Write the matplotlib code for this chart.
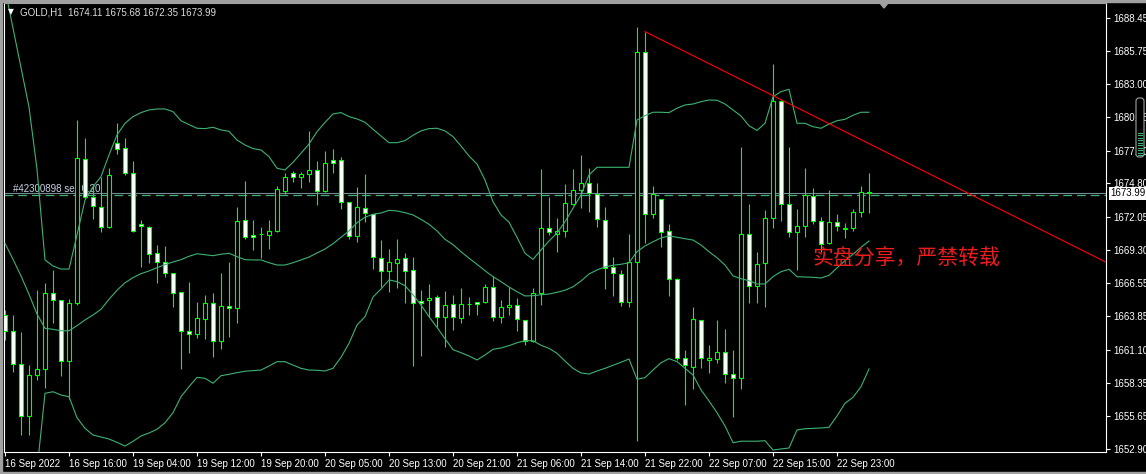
import numpy as np
import matplotlib
matplotlib.use('Agg')
import matplotlib.pyplot as plt
from matplotlib.patches import Rectangle, Polygon, FancyBboxPatch
from matplotlib.transforms import IdentityTransform

plt.rcParams['font.family'] = ['Liberation Sans', 'DejaVu Sans']

# ---------------- data (GOLD, H1) ----------------
symbol_info = 'GOLD,H1  1674.11 1675.68 1672.35 1673.99'

opens = [
    1663.95, 1662.65, 1659.88, 1655.62, 1658.98, 1659.47, 1665.74, 1665.16, 1660.13, 1664.94,
    1676.79, 1673.66, 1672.88, 1671.23, 1678.11, 1677.70, 1675.64, 1671.48, 1671.23, 1669.04,
    1668.30, 1667.39, 1665.82, 1662.60, 1662.36, 1663.59, 1664.91, 1661.78, 1664.72, 1664.50,
    1671.76, 1670.52, 1670.60, 1670.57, 1670.85, 1674.20, 1675.64, 1675.31, 1675.55, 1675.91,
    1674.15, 1676.71, 1676.71, 1673.24, 1670.49, 1672.75, 1672.26, 1668.63, 1667.60, 1668.26,
    1668.63, 1667.64, 1665.10, 1665.16, 1665.41, 1663.81, 1664.83, 1663.73, 1664.83, 1664.99,
    1665.05, 1666.23, 1663.81, 1664.58, 1664.75, 1663.51, 1661.83, 1665.74, 1671.10, 1670.65,
    1670.85, 1673.08, 1674.26, 1674.86, 1673.90, 1671.76, 1667.88, 1667.31, 1665.05, 1668.30,
    1685.62, 1672.25, 1673.49, 1670.85, 1666.89, 1660.38, 1659.68, 1663.51, 1660.26, 1660.29,
    1660.87, 1659.06, 1658.73, 1670.60, 1666.34, 1668.21, 1671.92, 1681.62, 1673.10, 1670.77,
    1671.29, 1673.76, 1671.73, 1669.86, 1671.60, 1671.07, 1671.10, 1672.42, 1674.11]
highs = [
    1664.36, 1663.95, 1662.55, 1659.82, 1666.01, 1666.61, 1667.66, 1665.19, 1665.27, 1680.03,
    1678.57, 1674.53, 1675.36, 1676.05, 1679.76, 1678.57, 1676.65, 1671.78, 1671.30, 1669.72,
    1669.64, 1667.45, 1665.85, 1666.65, 1665.05, 1665.60, 1665.74, 1667.39, 1668.32, 1672.83,
    1675.00, 1671.78, 1671.18, 1671.78, 1674.59, 1675.64, 1675.83, 1675.77, 1679.13, 1676.65,
    1677.48, 1677.64, 1676.98, 1673.30, 1674.53, 1675.58, 1672.30, 1670.13, 1669.39, 1670.22,
    1669.04, 1668.70, 1665.99, 1666.51, 1665.60, 1665.93, 1665.60, 1666.15, 1665.41, 1665.02,
    1666.51, 1667.19, 1665.19, 1666.28, 1665.33, 1663.55, 1666.15, 1675.97, 1673.66, 1671.93,
    1674.73, 1675.99, 1677.15, 1676.05, 1674.81, 1672.86, 1668.76, 1667.66, 1670.63, 1687.70,
    1687.32, 1674.59, 1673.52, 1671.45, 1667.03, 1661.06, 1664.61, 1663.55, 1661.47, 1663.54,
    1662.80, 1661.06, 1677.81, 1673.13, 1669.12, 1672.61, 1684.65, 1681.65, 1677.78, 1672.69,
    1676.10, 1674.42, 1672.01, 1674.26, 1672.28, 1671.51, 1672.69, 1674.59, 1675.68]
lows = [
    1661.89, 1659.27, 1654.05, 1654.05, 1658.59, 1657.95, 1663.31, 1658.92, 1657.00, 1664.77,
    1673.52, 1671.89, 1670.82, 1671.15, 1677.20, 1675.50, 1670.80, 1667.93, 1668.26, 1666.61,
    1667.11, 1664.63, 1659.47, 1660.79, 1662.08, 1661.94, 1660.51, 1661.17, 1662.16, 1663.26,
    1670.24, 1669.31, 1668.67, 1669.42, 1670.80, 1673.93, 1674.94, 1674.40, 1674.94, 1673.05,
    1674.10, 1675.64, 1672.72, 1670.19, 1669.99, 1671.64, 1667.77, 1666.28, 1665.87, 1666.15,
    1664.96, 1659.77, 1660.59, 1663.81, 1662.98, 1661.33, 1662.71, 1663.31, 1663.95, 1663.95,
    1664.96, 1663.48, 1663.31, 1663.95, 1662.65, 1661.50, 1661.75, 1664.75, 1670.55, 1669.17,
    1670.36, 1673.02, 1672.75, 1672.47, 1671.23, 1666.07, 1665.52, 1664.69, 1664.63, 1653.58,
    1669.91, 1671.97, 1669.58, 1665.52, 1660.24, 1656.53, 1657.82, 1659.55, 1659.14, 1659.96,
    1658.32, 1655.51, 1657.82, 1664.91, 1664.91, 1664.58, 1671.10, 1671.70, 1670.36, 1667.66,
    1670.41, 1671.45, 1669.17, 1669.80, 1670.90, 1670.32, 1670.90, 1672.01, 1672.35]
closes = [
    1662.63, 1659.88, 1655.62, 1658.98, 1659.47, 1665.74, 1665.19, 1660.13, 1664.94, 1676.87,
    1673.66, 1672.94, 1671.18, 1675.47, 1677.62, 1675.64, 1670.85, 1671.31, 1668.96, 1668.30,
    1667.44, 1665.74, 1662.60, 1662.36, 1663.68, 1664.91, 1661.78, 1664.67, 1664.50, 1671.68,
    1670.36, 1670.41, 1670.60, 1670.85, 1674.32, 1675.31, 1675.31, 1675.58, 1675.91, 1674.15,
    1676.46, 1676.46, 1673.27, 1670.44, 1672.83, 1672.34, 1668.71, 1667.58, 1668.30, 1668.54,
    1667.60, 1664.91, 1664.91, 1665.38, 1663.81, 1664.75, 1663.81, 1664.83, 1664.83, 1664.83,
    1666.26, 1663.76, 1664.58, 1664.77, 1663.59, 1661.83, 1665.74, 1671.10, 1670.77, 1670.85,
    1673.16, 1674.23, 1674.86, 1673.99, 1671.84, 1667.83, 1667.39, 1665.05, 1668.30, 1685.62,
    1672.25, 1673.90, 1670.82, 1666.89, 1660.38, 1659.80, 1663.59, 1660.38, 1660.38, 1660.87,
    1659.06, 1658.73, 1670.60, 1666.34, 1668.13, 1671.92, 1681.62, 1673.10, 1670.77, 1671.29,
    1673.85, 1671.73, 1669.78, 1671.60, 1671.31, 1671.09, 1672.47, 1674.11, 1673.99]

# Bollinger bands as drawn on the chart
upper_band = [
    1690.84, 1687.60, 1684.35, 1681.10, 1675.97, 1668.49, 1667.99, 1667.74, 1667.74, 1670.55,
    1673.43, 1674.53, 1675.36, 1677.15, 1678.80, 1679.76, 1680.31, 1680.64, 1680.86, 1680.94,
    1680.94, 1680.72, 1679.97, 1679.65, 1679.35, 1679.32, 1679.43, 1679.21, 1679.10, 1678.38,
    1677.97, 1677.67, 1677.56, 1677.01, 1676.05, 1675.91, 1676.54, 1677.29, 1678.05, 1679.07,
    1679.83, 1680.53, 1680.64, 1680.31, 1680.12, 1679.84, 1679.27, 1678.71, 1678.16, 1678.16,
    1678.33, 1678.77, 1679.13, 1679.32, 1679.35, 1679.13, 1678.66, 1677.89, 1677.06, 1676.40,
    1675.08, 1673.29, 1672.20, 1671.60, 1670.36, 1669.04, 1668.54, 1669.31, 1670.05, 1670.71,
    1671.64, 1672.75, 1673.85, 1675.50, 1676.13, 1676.13, 1676.13, 1676.13, 1676.13, 1680.03,
    1680.39, 1680.67, 1680.67, 1680.64, 1681.00, 1681.27, 1681.35, 1681.54, 1681.68, 1681.66,
    1681.35, 1680.86, 1680.36, 1679.56, 1679.17, 1679.76, 1681.95, 1682.37, 1682.56, 1679.76,
    1679.76, 1679.48, 1679.35, 1679.70, 1679.97, 1680.09, 1680.42, 1680.67, 1680.67]
middle_band = [
    1669.86, 1668.54, 1667.17, 1665.66, 1664.03, 1662.85, 1662.77, 1662.65, 1662.65, 1663.07,
    1663.54, 1663.95, 1664.42, 1665.24, 1665.99, 1666.61, 1667.03, 1667.36, 1667.58, 1667.85,
    1668.10, 1668.32, 1668.51, 1668.79, 1669.00, 1668.92, 1668.84, 1668.96, 1669.04, 1668.76,
    1668.51, 1668.49, 1668.49, 1668.26, 1668.07, 1668.07, 1668.26, 1668.49, 1668.73, 1669.06,
    1669.39, 1669.83, 1670.36, 1670.88, 1671.56, 1672.01, 1672.26, 1672.36, 1672.58, 1672.53,
    1672.39, 1672.20, 1671.84, 1671.43, 1670.88, 1670.19, 1669.75, 1669.17, 1668.63, 1668.13,
    1667.60, 1667.11, 1666.70, 1666.26, 1665.87, 1665.52, 1665.54, 1665.62, 1665.68, 1665.82,
    1665.99, 1666.28, 1666.75, 1667.33, 1667.66, 1667.91, 1668.05, 1668.13, 1668.26, 1669.17,
    1669.64, 1669.99, 1670.30, 1670.47, 1670.36, 1670.24, 1670.13, 1669.72, 1669.17, 1668.67,
    1668.07, 1667.17, 1666.94, 1666.78, 1666.51, 1666.51, 1667.11, 1667.52, 1667.72, 1667.11,
    1667.08, 1667.06, 1667.00, 1667.22, 1667.83, 1668.43, 1668.96, 1669.53, 1670.05]
lower_band = [
    1648.94, 1649.51, 1650.01, 1650.18, 1651.17, 1657.49, 1657.62, 1657.35, 1657.21, 1655.48,
    1654.60, 1654.05, 1653.89, 1653.72, 1653.45, 1653.14, 1653.53, 1653.97, 1654.22, 1654.52,
    1655.06, 1655.89, 1657.21, 1658.04, 1658.80, 1658.73, 1658.32, 1658.94, 1659.06, 1659.19,
    1659.31, 1659.36, 1659.41, 1659.74, 1660.10, 1660.10, 1659.82, 1659.55, 1659.41, 1659.39,
    1659.33, 1659.55, 1660.46, 1661.61, 1663.12, 1663.81, 1665.43, 1666.09, 1666.84, 1666.70,
    1666.37, 1665.62, 1664.77, 1663.81, 1662.93, 1661.99, 1661.09, 1660.84, 1660.57, 1660.24,
    1660.65, 1661.12, 1661.23, 1661.42, 1661.66, 1661.83, 1661.83, 1661.45, 1661.20, 1660.79,
    1660.15, 1659.55, 1659.17, 1659.08, 1659.33, 1659.55, 1659.80, 1660.05, 1660.32, 1658.65,
    1658.78, 1659.41, 1660.01, 1660.35, 1660.10, 1659.55, 1659.00, 1657.77, 1656.86, 1655.89,
    1654.80, 1653.42, 1653.54, 1653.54, 1653.54, 1653.58, 1652.81, 1652.90, 1652.98, 1654.47,
    1654.57, 1654.60, 1654.63, 1654.69, 1655.62, 1656.67, 1657.16, 1658.04, 1659.50]

time_labels = ['16 Sep 2022', '16 Sep 16:00', '19 Sep 04:00', '19 Sep 12:00', '19 Sep 20:00',
               '20 Sep 05:00', '20 Sep 13:00', '20 Sep 21:00', '21 Sep 06:00', '21 Sep 14:00',
               '21 Sep 22:00', '22 Sep 07:00', '22 Sep 15:00', '22 Sep 23:00']
price_ticks = [1688.45, 1685.75, 1683.00, 1680.25, 1677.50, 1674.80, 1672.05,
               1669.30, 1666.55, 1663.85, 1661.10, 1658.35, 1655.65, 1652.90]

bid = 1673.99
order_price = 1673.82
order_label = '#42300898 sell 0.20'
trend_bars = [80, 96]
trend_prices = [1687.32, 1682.04]
watermark = '实盘分享，严禁转载'

# ---------------- drawing ----------------
W, H = 1146, 474
LIME = '#00ff00'
BAND = '#3cb371'

fig = plt.figure(figsize=(W / 100, H / 100), dpi=100, facecolor='black')
ax = fig.add_axes([4 / W, 22 / H, 1102 / W, 449 / H], facecolor='black')

o, h, l, c = (np.array(a) for a in (opens, highs, lows, closes))
x = np.arange(len(o))

ax.set_xlim(-0.125, 137.625)
ax.set_ylim(1652.65, 1689.68)

# bid line and order line
ax.axhline(bid, color='#778899', lw=0.8, zorder=1)
ax.axhline(order_price, color=BAND, lw=0.9, ls=(0, (7, 4)), zorder=1)
ax.text(1, order_price + 0.55, order_label, color='#c8d2e6', fontsize=7,
        va='center', ha='left', zorder=1)

# candles: white body = bear, black body = bull
ax.vlines(x, l, h, color=LIME, lw=0.8, zorder=2)
up = c >= o
ax.bar(x, np.abs(c - o), bottom=np.minimum(o, c), width=0.5,
       color=np.where(up, 'black', 'white'), edgecolor=LIME, linewidth=0.8, zorder=3)

# bollinger bands
for band in (upper_band, middle_band, lower_band):
    ax.plot(x, band, color=BAND, lw=0.8, zorder=4)

# trend line (ray to the right)
slope = (trend_prices[1] - trend_prices[0]) / (trend_bars[1] - trend_bars[0])
x_end = ax.get_xlim()[1]
ax.plot([trend_bars[0], x_end], [trend_prices[0], trend_prices[0] + slope * (x_end - trend_bars[0])],
        color='#ff0000', lw=0.8, zorder=5)

ax.text(100.9, 1668.6, watermark, color='#ee1c1c', fontsize=15,
        family=['Noto Sans CJK SC', 'DejaVu Sans'], va='center', ha='left', zorder=6)

# axes
ax.yaxis.tick_right()
ax.set_yticks(price_ticks)
ax.set_yticklabels([f'{p:.2f}' for p in price_ticks])
ax.set_xticks(np.arange(0, 8 * len(time_labels), 8))
ax.set_xticklabels(time_labels, ha='left')
ax.tick_params(colors='white', labelsize=7, length=3, width=0.8, direction='out', pad=2)
for s in ax.spines.values():
    s.set_color('white')
    s.set_linewidth(0.8)
ax.spines['top'].set_color('#a0a0a0')

# current price box on the price scale
ax.text(1.0 + 4 / 1102, bid, f'{bid:.2f}', transform=ax.get_yaxis_transform(),
        fontsize=7, color='black', va='center', ha='left', zorder=7, clip_on=False,
        bbox=dict(boxstyle='square,pad=0.15', fc='white', ec='none'))

# header
fig.text(8 / W, 1 - 12 / H, '▼', fontsize=5.5, color='white', va='center',
         family=['DejaVu Sans'])
fig.text(20 / W, 1 - 12.5 / H, symbol_info, fontsize=7, color='#dcdcdc', va='center')

# window frame and small terminal widgets
idt = IdentityTransform()
fig.add_artist(Rectangle((0, H - 2), W, 2, transform=idt, color='#a0a0a0'))
fig.add_artist(Rectangle((0, 0), 2, H, transform=idt, color='#a0a0a0'))
fig.add_artist(Rectangle((0, 0), W, 2, transform=idt, color='#a0a0a0'))
fig.add_artist(Polygon([[880, H - 3], [888, H - 3], [884, H - 8]], closed=True,
                       transform=idt, color='#a0a0a0'))
fig.add_artist(FancyBboxPatch((1136, H - 157), 8, 59, boxstyle='round,pad=0,rounding_size=3',
                              transform=idt, ec='#a0a0a0', fc='black', lw=0.8))
for yy in np.arange(H - 155, H - 130, 2.5):
    fig.add_artist(plt.Line2D([1138, 1142], [yy, yy], transform=idt, color=BAND, lw=0.8))

fig.savefig('out.png', dpi=100, facecolor='black')
